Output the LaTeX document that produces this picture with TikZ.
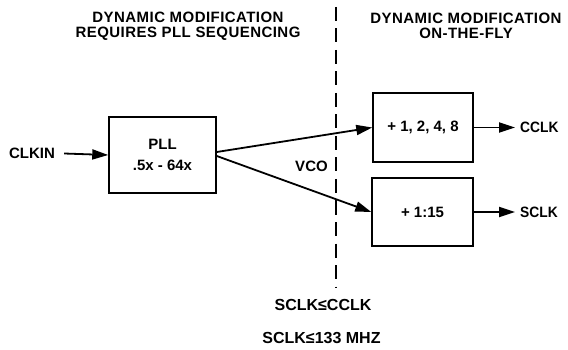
\documentclass[tikz,border=0pt]{standalone}
\usepackage{fontspec}
\setmainfont{Liberation Sans}
\usetikzlibrary{arrows.meta}
\begin{document}
\begin{tikzpicture}[x=1pt,y=-1pt,
  txt/.style={inner sep=0pt, font=\bfseries\fontsize{15}{15}\selectfont},
  narrow/.style={inner sep=0pt, font=\bfseries\fontsize{15}{15}\selectfont\addfontfeature{FakeStretch=0.92}},
  head/.style={inner sep=0pt, align=center, font=\bfseries\fontsize{15}{14.5}\selectfont\addfontfeature{LetterSpace=3}},
  box/.style={draw, line width=1.5pt, align=center, inner sep=0pt, font=\bfseries\fontsize{15}{20.5}\selectfont},
  conn/.style={line width=1.8pt, -{Triangle[length=16pt,width=10pt]}},
  divider/.style={line width=1.7pt, dash pattern=on 14pt off 7.5pt}]
\useasboundingbox (0,0) rectangle (568,350);
% headings
\node[head] (hl) at (188,26) {DYNAMIC MODIFICATION\\REQUIRES PLL SEQUENCING};
\node[head] (hr) at (466,26) {DYNAMIC MODIFICATION\\ON-THE-FLY};
% divider
\coordinate (dtop) at (336,7);
\coordinate (dbot) at (336,287);
\draw[divider] (dtop) -- (dbot);
% boxes
\node[box, minimum width=107pt, minimum height=76pt] (pll) at (162.5,155) {PLL\\.5x - 64x};
\node[box, minimum width=100pt, minimum height=69pt] (cdiv) at (423,127.5) {+ 1, 2, 4, 8};
\node[box, minimum width=101pt, minimum height=68pt] (sdiv) at (422.5,212) {+ 1:15};
% labels
\node[txt] (clkin) at (32,153.5) {CLKIN};
\node[narrow, anchor=west] (cclk) at (520,127.5) {CCLK};
\node[narrow, anchor=west] (sclk) at (520,212) {SCLK};
\node[txt] (vco) at (311.5,166) {VCO};
\node[txt, font=\bfseries\fontsize{16}{16}\selectfont] (c1) at (323,304.5) {SCLK≤CCLK};
\node[txt, font=\bfseries\fontsize{16}{16}\selectfont] (c2) at (321.5,338.5) {SCLK≤133 MHZ};
% connectors
\draw[conn] ([xshift=9pt]clkin.east) -- (pll.west);
\draw[conn] ([yshift=3pt]pll.east) -- (cdiv.west);
\draw[conn] ([yshift=-1pt]pll.east) -- (sdiv.west);
\draw[conn] (cdiv.east) -- ([xshift=-5pt]cclk.west);
\draw[conn] (sdiv.east) -- ([xshift=-5pt]sclk.west);
\end{tikzpicture}
\end{document}
